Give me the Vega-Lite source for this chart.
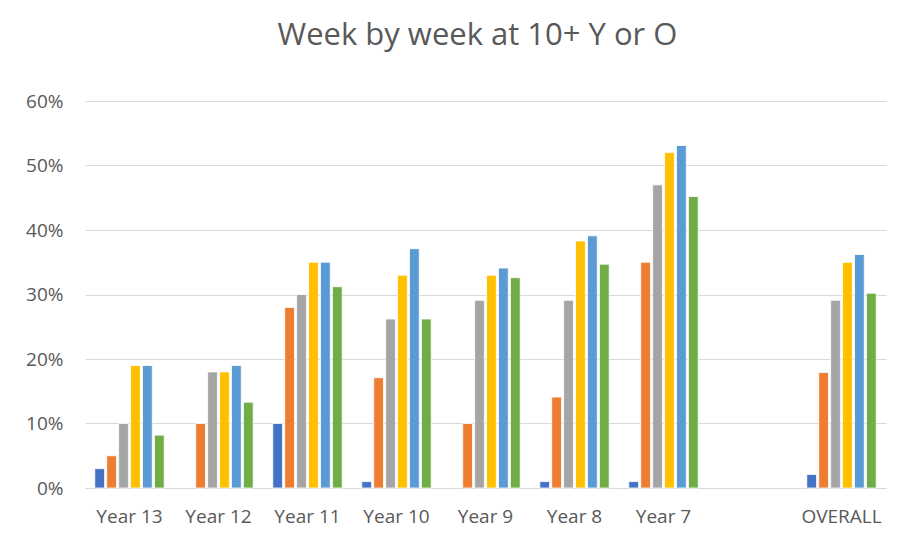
{
  "$schema": "https://vega.github.io/schema/vega-lite/v6.json",
  "autosize": {"type": "none"},
  "width": 801,
  "height": 387,
  "padding": {"left": 85, "top": 101, "right": 15, "bottom": 52},
  "background": "white",
  "title": {
    "text": "Week by week at 10+ Y or O",
    "font": "Open Sans",
    "fontSize": 31,
    "fontWeight": "normal",
    "color": "#595959",
    "anchor": "middle",
    "offset": 40,
    "dx": -8
  },
  "data": {
    "values": [
      {"group": "Year 13", "week": "W1", "value": 0.03},
      {"group": "Year 13", "week": "W2", "value": 0.05},
      {"group": "Year 13", "week": "W3", "value": 0.10},
      {"group": "Year 13", "week": "W4", "value": 0.19},
      {"group": "Year 13", "week": "W5", "value": 0.19},
      {"group": "Year 13", "week": "W6", "value": 0.082},
      {"group": "Year 12", "week": "W2", "value": 0.10},
      {"group": "Year 12", "week": "W3", "value": 0.18},
      {"group": "Year 12", "week": "W4", "value": 0.18},
      {"group": "Year 12", "week": "W5", "value": 0.19},
      {"group": "Year 12", "week": "W6", "value": 0.133},
      {"group": "Year 11", "week": "W1", "value": 0.10},
      {"group": "Year 11", "week": "W2", "value": 0.28},
      {"group": "Year 11", "week": "W3", "value": 0.30},
      {"group": "Year 11", "week": "W4", "value": 0.35},
      {"group": "Year 11", "week": "W5", "value": 0.35},
      {"group": "Year 11", "week": "W6", "value": 0.312},
      {"group": "Year 10", "week": "W1", "value": 0.01},
      {"group": "Year 10", "week": "W2", "value": 0.171},
      {"group": "Year 10", "week": "W3", "value": 0.262},
      {"group": "Year 10", "week": "W4", "value": 0.33},
      {"group": "Year 10", "week": "W5", "value": 0.371},
      {"group": "Year 10", "week": "W6", "value": 0.262},
      {"group": "Year 9", "week": "W2", "value": 0.10},
      {"group": "Year 9", "week": "W3", "value": 0.291},
      {"group": "Year 9", "week": "W4", "value": 0.33},
      {"group": "Year 9", "week": "W5", "value": 0.341},
      {"group": "Year 9", "week": "W6", "value": 0.326},
      {"group": "Year 8", "week": "W1", "value": 0.01},
      {"group": "Year 8", "week": "W2", "value": 0.141},
      {"group": "Year 8", "week": "W3", "value": 0.291},
      {"group": "Year 8", "week": "W4", "value": 0.383},
      {"group": "Year 8", "week": "W5", "value": 0.391},
      {"group": "Year 8", "week": "W6", "value": 0.347},
      {"group": "Year 7", "week": "W1", "value": 0.01},
      {"group": "Year 7", "week": "W2", "value": 0.35},
      {"group": "Year 7", "week": "W3", "value": 0.47},
      {"group": "Year 7", "week": "W4", "value": 0.52},
      {"group": "Year 7", "week": "W5", "value": 0.531},
      {"group": "Year 7", "week": "W6", "value": 0.452},
      {"group": "OVERALL", "week": "W1", "value": 0.021},
      {"group": "OVERALL", "week": "W2", "value": 0.179},
      {"group": "OVERALL", "week": "W3", "value": 0.291},
      {"group": "OVERALL", "week": "W4", "value": 0.35},
      {"group": "OVERALL", "week": "W5", "value": 0.362},
      {"group": "OVERALL", "week": "W6", "value": 0.302}
    ]
  },
  "mark": {"type": "bar", "stroke": "white", "strokeWidth": 0.8},
  "encoding": {
    "x": {
      "field": "group",
      "type": "nominal",
      "sort": null,
      "scale": {
        "domain": ["Year 13", "Year 12", "Year 11", "Year 10", "Year 9", "Year 8", "Year 7", " ", "OVERALL"],
        "paddingInner": 0.22,
        "paddingOuter": 0.11
      },
      "axis": {
        "title": null,
        "labelAngle": 0,
        "ticks": false,
        "labelPadding": 19,
        "labelFont": "Open Sans",
        "labelFontSize": 19,
        "labelColor": "#595959",
        "domainColor": "#d9d9d9",
        "domainWidth": 1,
        "grid": false
      }
    },
    "xOffset": {
      "field": "week",
      "type": "nominal",
      "scale": {"domain": ["W1", "W2", "W3", "W4", "W5", "W6"], "paddingInner": 0.18}
    },
    "y": {
      "field": "value",
      "type": "quantitative",
      "scale": {"domain": [0, 0.6]},
      "axis": {
        "title": null,
        "format": ".0%",
        "values": [0, 0.1, 0.2, 0.3, 0.4, 0.5, 0.6],
        "domain": false,
        "ticks": false,
        "labelPadding": 22,
        "labelFont": "Open Sans",
        "labelFontSize": 19,
        "labelColor": "#595959",
        "gridColor": "#d9d9d9",
        "gridWidth": 1
      }
    },
    "color": {
      "field": "week",
      "type": "nominal",
      "scale": {
        "domain": ["W1", "W2", "W3", "W4", "W5", "W6"],
        "range": ["#4472C4", "#ED7D31", "#A5A5A5", "#FFC000", "#5B9BD5", "#70AD47"]
      },
      "legend": null
    }
  },
  "config": {"view": {"stroke": null}}
}
